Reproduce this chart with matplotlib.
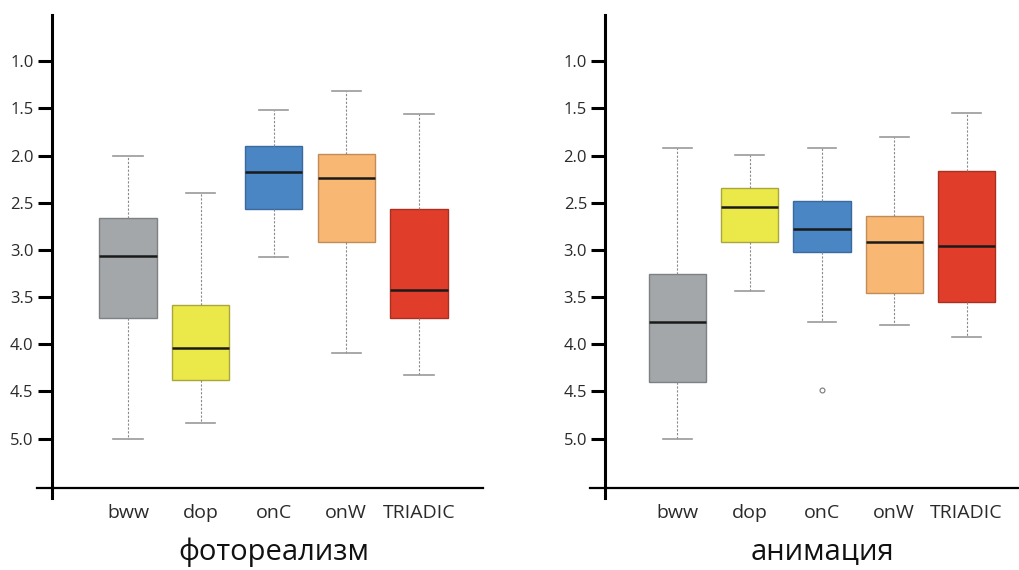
import matplotlib.pyplot as plt
from matplotlib import transforms

plt.rcParams['font.family'] = ['Open Sans', 'DejaVu Sans']

categories = ['bww', 'dop', 'onC', 'onW', 'TRIADIC']
colors = ['#A4A7A9', '#EBE84A', '#4A86C4', '#F8B773', '#E03E2B']
edges = ['#7E8183', '#A9A63A', '#3A6A9E', '#C08C58', '#A8301F']

# photorealism panel: whisker low, q1, median, q3, whisker high
photo_wlo = [2.00, 2.40, 1.52, 1.32, 1.56]
photo_q1 = [2.66, 3.58, 1.90, 1.98, 2.57]
photo_med = [3.06, 4.04, 2.17, 2.24, 3.42]
photo_q3 = [3.72, 4.38, 2.57, 2.92, 3.72]
photo_whi = [5.00, 4.84, 3.08, 4.09, 4.33]
photo_fliers = [[], [], [], [], []]

# animation panel
anim_wlo = [1.92, 1.99, 1.92, 1.80, 1.55]
anim_q1 = [3.26, 2.34, 2.48, 2.64, 2.16]
anim_med = [3.76, 2.54, 2.78, 2.92, 2.96]
anim_q3 = [4.40, 2.92, 3.02, 3.46, 3.55]
anim_whi = [5.00, 3.44, 3.76, 3.80, 3.92]
anim_fliers = [[], [], [4.48], [], []]

titles = ['фотореализм', 'анимация']
yticks = [1.0, 1.5, 2.0, 2.5, 3.0, 3.5, 4.0, 4.5, 5.0]


def make_stats(wlo, q1, med, q3, whi, fliers):
    return [dict(whislo=a, q1=b, med=c, q3=d, whishi=e, fliers=f)
            for a, b, c, d, e, f in zip(wlo, q1, med, q3, whi, fliers)]


def draw_panel(ax, stats, title, xlim, spine_x):
    pos = list(range(1, len(categories) + 1))
    bp = ax.bxp(stats, positions=pos, widths=0.79, capwidths=0.4,
                patch_artist=True, manage_ticks=False,
                whiskerprops=dict(color='#8A8A8A', lw=0.8, ls=(0, (2, 1.5))),
                capprops=dict(color='#9A9A9A', lw=1.2),
                medianprops=dict(color='#1A1A1A', lw=1.8),
                flierprops=dict(marker='o', markersize=3.5, markerfacecolor='none',
                                markeredgecolor='#777777', markeredgewidth=0.8))
    for box, c, e in zip(bp['boxes'], colors, edges):
        box.set_facecolor(c)
        box.set_edgecolor(e)
        box.set_linewidth(1.0)

    ax.set_xlim(*xlim)
    ax.set_ylim(5.63, 0.51)
    ax.spines['top'].set_visible(False)
    ax.spines['right'].set_visible(False)
    ax.spines['left'].set_position(('data', spine_x))
    ax.spines['bottom'].set_position(('data', 5.52))
    ax.spines['left'].set_linewidth(2.2)
    ax.spines['bottom'].set_linewidth(1.6)

    ax.set_yticks(yticks)
    ax.set_yticklabels([f'{v:.1f}' for v in yticks])
    ax.tick_params(axis='y', direction='out', length=10, width=2.2, pad=3,
                   labelsize=12, labelcolor='#2A2A2A')
    ax.set_xticks(pos)
    ax.set_xticklabels(categories)
    ax.tick_params(axis='x', length=0, pad=12, labelsize=14, labelcolor='#2A2A2A')

    tr = transforms.blended_transform_factory(ax.transData, ax.figure.transFigure)
    ax.text(3, 0.032, title, transform=tr, ha='center', va='center',
            fontsize=21, color='#111111')


fig = plt.figure(figsize=(10.2, 5.7), dpi=100)
ax1 = fig.add_axes([0.0363, 0.1263, 0.4373, 0.8474])
ax2 = fig.add_axes([0.5784, 0.1263, 0.4216, 0.8474])

draw_panel(ax1, make_stats(photo_wlo, photo_q1, photo_med, photo_q3, photo_whi, photo_fliers),
           titles[0], (-0.25, 5.88), -0.05)
draw_panel(ax2, make_stats(anim_wlo, anim_q1, anim_med, anim_q3, anim_whi, anim_fliers),
           titles[1], (-0.21, 5.74), 0)

fig.savefig('out.png', dpi=100)
